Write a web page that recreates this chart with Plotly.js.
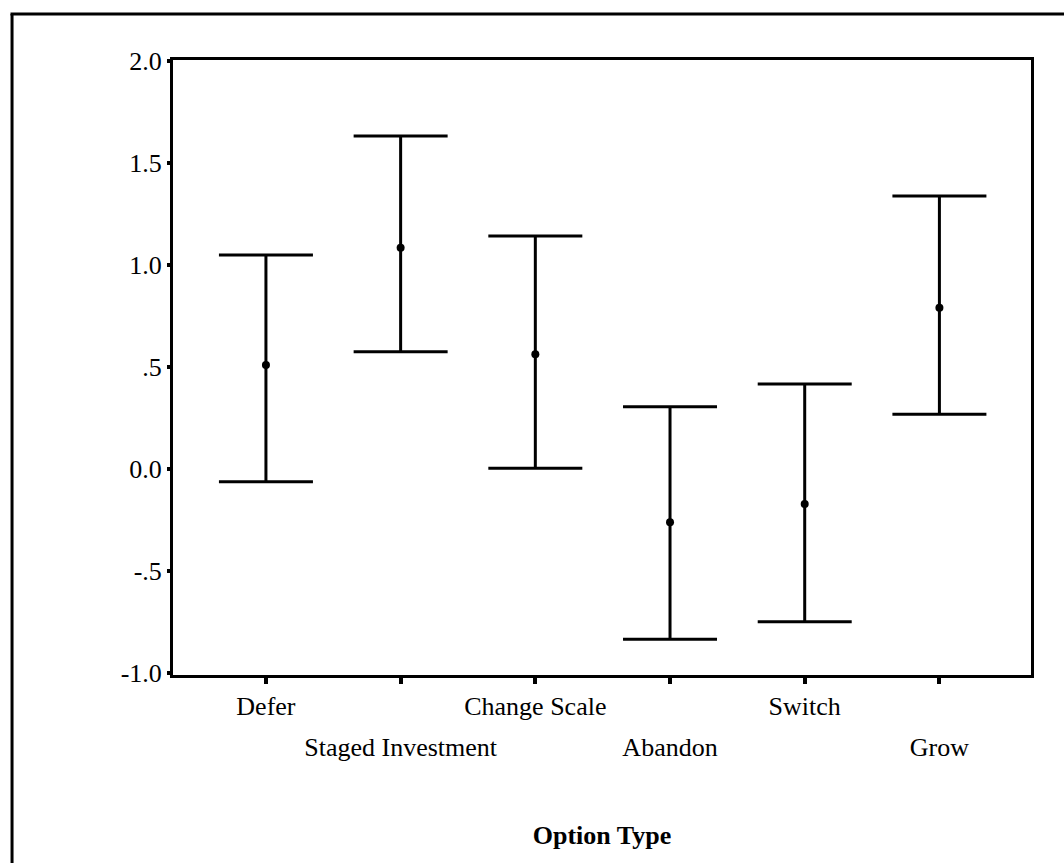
<!DOCTYPE html>
<html><head><meta charset="utf-8">
<script src="https://cdn.plot.ly/plotly-3.0.1.min.js"></script>
<style>html,body{margin:0;padding:0;background:#fff}#chart{width:1064px;height:863px}</style>
</head><body><div id="chart"></div>
<script>
const categories = ["Defer", "Staged Investment", "Change Scale", "Abandon", "Switch", "Grow"];
const means = [0.510, 1.085, 0.562, -0.261, -0.172, 0.791];
const upper = [1.049, 1.632, 1.142, 0.305, 0.417, 1.338];
const lower = [-0.062, 0.575, 0.003, -0.835, -0.749, 0.268];
const yTickVals = [-1, -0.5, 0, 0.5, 1, 1.5, 2];
const yTickText = ["-1.0", "-.5", "0.0", ".5", "1.0", "1.5", "2.0"];

const idx = categories.map((c, i) => i);
const rowOne = categories.map((c, i) => i % 2 === 0 ? c : "");
const rowTwo = categories.map((c, i) => i % 2 === 1 ? c : "");
const serif = "Liberation Serif, Times New Roman, serif";

const traces = [
  {
    type: "scatter", mode: "markers", x: idx, y: means,
    marker: {color: "#000", size: 8, symbol: "circle"},
    error_y: {
      type: "data", symmetric: false,
      array: upper.map((u, i) => u - means[i]),
      arrayminus: lower.map((l, i) => means[i] - l),
      color: "#000", thickness: 3, width: 47
    },
    hoverinfo: "skip", showlegend: false
  },
  {
    type: "scatter", mode: "markers", x: idx, y: means, xaxis: "x2",
    marker: {opacity: 0}, hoverinfo: "skip", showlegend: false
  }
];

const layout = {
  width: 1064, height: 863,
  margin: {l: 173, r: 33, t: 60, b: 188},
  paper_bgcolor: "#fff", plot_bgcolor: "#fff",
  font: {family: serif, size: 26, color: "#000"},
  showlegend: false,
  xaxis: {
    range: [-0.69, 5.68], tickmode: "array", tickvals: idx, ticktext: rowOne,
    ticks: "outside", ticklen: 6, tickwidth: 4, tickcolor: "#000",
    showline: true, linewidth: 3, linecolor: "#000", mirror: true,
    showgrid: false, zeroline: false, fixedrange: true,
    tickfont: {family: serif, size: 26, color: "#000"}
  },
  xaxis2: {
    overlaying: "x", side: "bottom", anchor: "y",
    range: [-0.69, 5.68], tickmode: "array", tickvals: idx, ticktext: rowTwo,
    ticks: "outside", ticklen: 49, tickcolor: "rgba(0,0,0,0)",
    showline: false, showgrid: false, zeroline: false, fixedrange: true,
    tickfont: {family: serif, size: 26, color: "#000"},
    title: {text: "<b>Option Type</b>", standoff: 64, font: {family: serif, size: 26, color: "#000"}}
  },
  yaxis: {
    range: [-1.01, 2.005], tickmode: "array", tickvals: yTickVals, ticktext: yTickText,
    ticks: "outside", ticklen: 3, tickwidth: 4, tickcolor: "#000",
    showline: true, linewidth: 3, linecolor: "#000", mirror: true,
    showgrid: false, zeroline: false, fixedrange: true,
    tickfont: {family: serif, size: 26, color: "#000"}
  },
  shapes: [
    {type: "line", xref: "paper", yref: "paper", x0: -0.1876, x1: -0.1876, y0: 1.0748, y1: -0.31,
     line: {color: "#000", width: 3}},
    {type: "line", xref: "paper", yref: "paper", x0: -0.1894, x1: 1.04, y0: 1.0748, y1: 1.0748,
     line: {color: "#000", width: 3}}
  ]
};

Plotly.newPlot("chart", traces, layout, {displayModeBar: false, staticPlot: true});
</script>
</body></html>
